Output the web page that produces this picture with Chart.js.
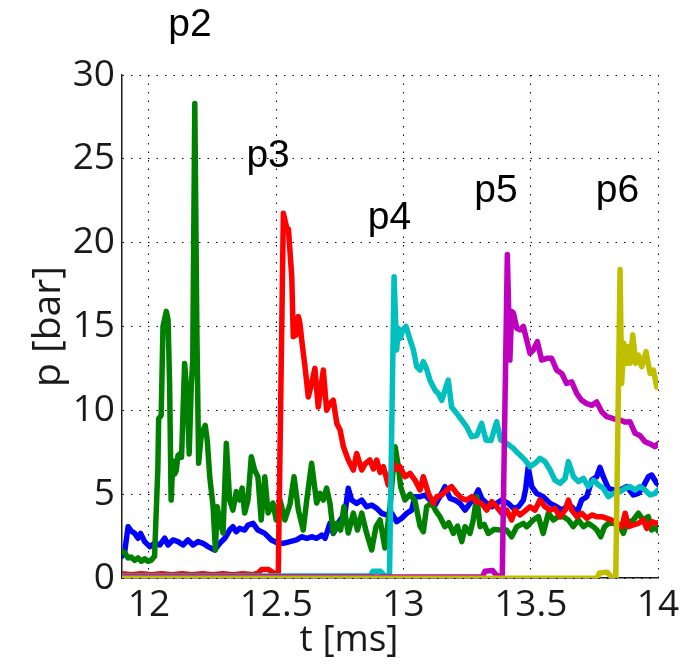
<!DOCTYPE html>
<html lang="en">
<head>
  <meta charset="UTF-8">
  <title>Pressure traces p1 - p6</title>
  <script src="https://cdn.jsdelivr.net/npm/chart.js"></script>
  <style>
    html, body { margin: 0; padding: 0; background: #fff; }
    #wrap { width: 693px; height: 664px; position: relative; }
  </style>
</head>
<body>
  <div id="wrap"><canvas id="pChart"></canvas></div>

  <script>
    // axis ticks
    const xTicks = [12, 12.5, 13, 13.5, 14];
    const yTicks = [0, 5, 10, 15, 20, 25, 30];

    // sensor names and where their text sits [name, t (ms), p (bar)]
    const peakLabels = [
      ['p2', 12.161, 32.3],
      ['p3', 12.468, 24.5],
      ['p4', 12.945, 20.8],
      ['p5', 13.363, 22.4],
      ['p6', 13.841, 22.4]
    ];

    // p1 (blue) [t, p]
    const p1 = [[11.894,1.3],[11.905,1.6],[11.918,3.06],[11.930,2.8],[11.944,2.66],[11.957,2.37],[11.967,2.66],[11.983,2.17],
      [12.003,1.87],[12.022,2.07],[12.042,1.97],[12.062,2.37],[12.075,1.97],[12.094,2.27],[12.114,2.17],[12.134,1.97],
      [12.153,2.27],[12.173,1.97],[12.193,2.17],[12.212,2.07],[12.232,1.87],[12.258,1.67],[12.278,2.07],[12.298,2.37],
      [12.317,2.86],[12.330,3.06],[12.343,2.76],[12.356,2.96],[12.376,2.86],[12.389,3.16],[12.409,3.26],[12.428,2.86],
      [12.455,2.66],[12.481,2.27],[12.507,2.07],[12.528,2.07],[12.554,2.17],[12.580,2.27],[12.600,2.46],[12.620,2.37],
      [12.639,2.46],[12.659,2.37],[12.679,2.56],[12.692,2.37],[12.711,3.26],[12.724,2.66],[12.738,3.06],[12.751,3.46],
      [12.770,3.86],[12.783,5.35],[12.796,4.65],[12.816,4.45],[12.836,4.65],[12.855,4.25],[12.875,4.35],[12.895,4.15],
      [12.914,3.86],[12.934,3.76],[12.954,3.86],[12.973,3.36],[12.993,3.56],[13.013,3.86],[13.032,4.05],[13.045,4.85],
      [13.065,4.85],[13.085,4.95],[13.104,4.65],[13.124,4.35],[13.143,4.85],[13.163,5.45],[13.183,4.75],[13.202,4.65],
      [13.222,4.45],[13.242,4.05],[13.261,4.45],[13.281,4.85],[13.294,5.25],[13.307,4.75],[13.327,4.45],[13.347,4.25],
      [13.366,4.45],[13.386,4.65],[13.412,4.45],[13.432,4.15],[13.452,4.25],[13.471,4.65],[13.480,5.3],[13.490,6.6],
      [13.504,5.45],[13.523,5.05],[13.549,4.85],[13.576,4.45],[13.602,4.25],[13.622,4.05],[13.641,4.25],[13.661,4.25],
      [13.681,3.86],[13.700,4.65],[13.720,4.85],[13.740,5.84],[13.759,6.04],[13.772,6.6],[13.785,6.04],[13.805,5.35],
      [13.825,5.25],[13.851,5.25],[13.877,5.45],[13.903,4.95],[13.923,5.05],[13.942,5.45],[13.962,6.04],[13.975,6.14],
      [13.995,5.65],[14.0,5.6]];

    // p2 (green)
    const p2 = [[11.894,1.6],[11.905,1.5],[11.918,1.2],[11.930,1.25],[11.944,1.05],[11.957,1.2],[11.970,1.0],[11.983,1.15],
      [11.996,1.0],[12.008,1.05],[12.022,1.3],[12.035,6.6],[12.038,9.5],[12.048,9.7],[12.055,15.0],[12.068,15.9],
      [12.075,15.4],[12.081,11.6],[12.087,4.65],[12.094,7.0],[12.101,6.2],[12.107,6.4],[12.114,7.3],[12.121,7.4],
      [12.128,7.2],[12.140,12.8],[12.151,10.6],[12.158,7.4],[12.166,11.4],[12.172,13.0],[12.180,28.3],[12.188,15.0],
      [12.195,6.85],[12.206,8.6],[12.221,9.1],[12.229,8.2],[12.239,6.0],[12.252,4.25],[12.261,1.67],[12.268,4.25],
      [12.278,3.46],[12.291,2.68],[12.304,8.03],[12.317,4.65],[12.330,4.05],[12.343,5.15],[12.356,4.65],[12.366,5.36],
      [12.376,3.87],[12.389,4.65],[12.402,7.23],[12.415,6.44],[12.428,6.04],[12.441,3.46],[12.455,6.04],[12.468,3.87],
      [12.487,4.47],[12.500,3.46],[12.515,4.65],[12.534,3.46],[12.554,4.4],[12.570,6.04],[12.587,4.05],[12.606,2.86],
      [12.620,4.65],[12.639,6.84],[12.659,4.47],[12.672,5.05],[12.685,4.65],[12.698,5.36],[12.711,4.47],[12.724,2.68],
      [12.738,3.26],[12.753,2.86],[12.766,4.25],[12.783,2.68],[12.803,3.87],[12.819,2.86],[12.836,3.87],[12.855,2.68],
      [12.875,1.67],[12.892,3.06],[12.908,3.46],[12.927,1.79],[12.947,4.25],[12.967,7.83],[12.980,6.64],[12.989,5.44],
      [13.006,4.65],[13.026,5.0],[13.045,4.6],[13.065,3.1],[13.078,2.76],[13.091,4.25],[13.111,4.47],[13.127,4.0],
      [13.143,3.66],[13.163,3.06],[13.178,3.3],[13.196,2.66],[13.212,3.1],[13.229,2.17],[13.242,3.06],[13.261,2.66],
      [13.274,3.46],[13.288,4.85],[13.301,3.06],[13.317,3.2],[13.333,2.66],[13.356,2.9],[13.379,2.86],[13.405,2.86],
      [13.425,2.46],[13.445,3.06],[13.471,3.26],[13.484,3.06],[13.497,3.26],[13.510,3.46],[13.530,3.66],[13.549,2.66],
      [13.569,3.86],[13.589,3.46],[13.608,3.66],[13.628,3.66],[13.648,3.46],[13.667,3.06],[13.687,3.46],[13.707,3.06],
      [13.726,3.26],[13.746,3.06],[13.760,2.86],[13.775,2.46],[13.790,3.06],[13.805,3.26],[13.825,3.26],[13.851,3.06],
      [13.864,2.66],[13.877,3.26],[13.903,3.46],[13.923,3.86],[13.942,3.46],[13.962,3.66],[13.975,2.86],[13.995,3.06],
      [14.0,2.8]];

    // p3 (red)
    const p3 = [[11.894,0.25],[11.93,0.2],[11.97,0.25],[12.01,0.2],[12.05,0.25],[12.09,0.2],[12.13,0.25],[12.17,0.2],
      [12.21,0.25],[12.25,0.2],[12.29,0.25],[12.33,0.2],[12.37,0.25],[12.41,0.2],[12.43,0.3],[12.442,0.5],[12.47,0.5],
      [12.49,0.3],[12.508,0.15],[12.528,21.75],[12.541,20.9],[12.548,20.8],[12.561,17.97],[12.567,14.4],[12.578,14.5],
      [12.587,15.6],[12.593,15.2],[12.600,14.2],[12.613,12.6],[12.626,10.8],[12.639,11.6],[12.652,12.5],[12.665,10.2],
      [12.685,12.4],[12.698,10.0],[12.711,10.4],[12.724,10.6],[12.738,9.22],[12.751,8.83],[12.764,7.83],[12.783,7.04],
      [12.803,6.44],[12.816,7.43],[12.836,6.44],[12.849,6.8],[12.868,7.04],[12.882,6.5],[12.895,7.04],[12.908,6.3],
      [12.921,6.64],[12.940,5.55],[12.960,6.84],[12.973,6.5],[12.986,6.64],[13.006,6.04],[13.026,6.24],[13.045,5.84],
      [13.065,5.25],[13.078,6.04],[13.098,5.05],[13.117,4.45],[13.131,4.85],[13.150,4.95],[13.170,5.25],[13.189,5.45],
      [13.209,5.05],[13.229,4.75],[13.248,4.65],[13.268,4.85],[13.288,4.55],[13.307,4.45],[13.327,4.05],[13.347,4.55],
      [13.366,4.25],[13.386,3.86],[13.405,4.05],[13.425,3.46],[13.438,4.05],[13.458,3.76],[13.478,4.0],[13.497,4.25],
      [13.517,4.05],[13.536,4.65],[13.556,4.25],[13.576,4.05],[13.595,4.15],[13.615,3.66],[13.635,4.05],[13.648,4.65],
      [13.661,4.05],[13.681,3.66],[13.700,3.86],[13.720,3.56],[13.740,3.76],[13.759,3.66],[13.779,3.66],[13.799,3.56],
      [13.818,3.46],[13.838,3.26],[13.858,3.06],[13.871,3.86],[13.884,3.06],[13.903,3.16],[13.923,3.26],[13.942,3.46],
      [13.956,2.96],[13.975,3.36],[13.995,3.26],[14.0,3.3]];

    // p4 (cyan)
    const p4 = [[11.894,0.12],[12.3,0.12],[12.87,0.12],[12.88,0.4],[12.91,0.4],[12.925,0.15],[12.945,0.12],
      [12.963,17.97],[12.973,13.6],[12.980,14.9],[12.988,14.3],[12.997,14.8],[13.010,15.0],[13.026,14.2],[13.039,13.6],
      [13.052,12.6],[13.065,12.4],[13.078,12.9],[13.090,12.5],[13.104,11.8],[13.124,11.2],[13.137,11.0],[13.150,10.6],
      [13.163,11.2],[13.176,11.8],[13.189,10.2],[13.209,9.82],[13.229,9.42],[13.248,9.02],[13.268,8.43],[13.288,8.5],
      [13.307,9.22],[13.324,8.23],[13.344,8.2],[13.366,9.32],[13.382,8.23],[13.406,8.03],[13.432,7.73],[13.446,7.5],
      [13.458,7.33],[13.478,7.03],[13.497,6.64],[13.517,6.84],[13.536,7.14],[13.556,6.94],[13.576,6.44],[13.595,5.84],
      [13.615,5.65],[13.635,5.94],[13.648,6.94],[13.668,6.04],[13.687,5.75],[13.707,5.94],[13.726,5.45],[13.746,5.84],
      [13.766,5.55],[13.785,5.35],[13.805,4.85],[13.825,5.05],[13.851,5.15],[13.871,5.35],[13.890,5.45],[13.910,5.25],
      [13.929,5.45],[13.949,5.25],[13.969,4.95],[13.989,5.05],[14.0,5.25]];

    // p5 (magenta)
    const p5 = [[11.894,0.06],[12.6,0.06],[13.31,0.06],[13.32,0.4],[13.35,0.45],[13.365,0.15],[13.388,0.06],
      [13.408,19.3],[13.418,13.0],[13.425,15.9],[13.432,15.8],[13.445,14.9],[13.458,14.8],[13.471,15.0],[13.484,14.2],
      [13.497,13.4],[13.510,13.6],[13.526,14.1],[13.543,13.0],[13.563,13.1],[13.582,13.1],[13.602,12.4],[13.622,12.2],
      [13.641,11.6],[13.661,11.7],[13.681,11.0],[13.700,10.6],[13.720,10.4],[13.740,10.3],[13.759,10.5],[13.779,9.92],
      [13.799,9.62],[13.825,9.5],[13.851,9.42],[13.871,9.3],[13.890,9.32],[13.910,8.63],[13.929,8.5],[13.949,8.13],
      [13.969,8.0],[13.988,7.83],[14.0,8.0]];

    // p6 (yellow)
    const p6 = [[11.894,-0.02],[12.8,-0.02],[13.76,-0.02],[13.77,0.3],[13.80,0.35],[13.815,0.1],[13.834,-0.02],
      [13.851,18.4],[13.857,11.6],[13.866,14.0],[13.877,12.8],[13.883,13.8],[13.890,12.8],[13.901,14.5],[13.912,12.8],
      [13.923,13.3],[13.936,12.6],[13.953,13.5],[13.969,12.2],[13.982,12.4],[13.995,11.4],[14.0,11.7]];

    function trace(rows, color, order) {
      return {
        data: rows.map(r => ({ x: r[0], y: r[1] })),
        borderColor: color,
        borderWidth: 5.5,
        borderJoinStyle: 'round',
        borderCapStyle: 'round',
        pointRadius: 0,
        tension: 0,
        fill: false,
        order: order
      };
    }

    const tickFont = { family: 'Open Sans', size: 37 };
    const axisColor = '#1a1a1a';

    // p2..p6 next to their pulses, plus the time axis name
    const chartText = {
      id: 'chartText',
      afterDraw(chart) {
        const { ctx, scales: { x, y } } = chart;
        ctx.save();
        ctx.font = '39px "Liberation Sans", Arial, sans-serif';
        ctx.fillStyle = '#000';
        ctx.textAlign = 'center';
        ctx.textBaseline = 'alphabetic';
        peakLabels.forEach(l => ctx.fillText(l[0], x.getPixelForValue(l[1]), y.getPixelForValue(l[2])));
        ctx.font = '37px "Open Sans"';
        ctx.fillStyle = axisColor;
        ctx.textBaseline = 'middle';
        ctx.fillText('t [ms]', x.getPixelForValue(12.786), x.bottom - 24);
        ctx.restore();
      }
    };

    new Chart(document.getElementById('pChart'), {
      type: 'line',
      data: {
        datasets: [
          trace(p1, '#0000ff', 5),
          trace(p2, '#008000', 4),
          trace(p3, '#ff0000', 3),
          trace(p4, '#00bfbf', 2),
          trace(p5, '#bf00bf', 1),
          trace(p6, '#bfbf00', 0)
        ]
      },
      options: {
        responsive: true,
        maintainAspectRatio: false,
        animation: false,
        layout: { padding: { top: 75, right: 35, left: 0, bottom: 0 } },
        plugins: { legend: { display: false }, tooltip: { enabled: false } },
        scales: {
          x: {
            type: 'linear',
            min: 11.894,
            max: 14,
            afterBuildTicks: s => { s.ticks = xTicks.map(v => ({ value: v })); },
            afterFit: s => { s.height = 86; },
            ticks: { font: tickFont, color: axisColor, padding: 5, maxRotation: 0, autoSkip: false, callback: v => String(v) },
            grid: { color: '#000', lineWidth: 1, drawTicks: false },
            border: { display: true, color: axisColor, width: 1.5, dash: [1.5, 7] }
          },
          y: {
            min: 0,
            max: 30,
            afterBuildTicks: s => { s.ticks = yTicks.map(v => ({ value: v })); },
            afterFit: s => { s.width = 122; },
            ticks: { font: tickFont, color: axisColor, padding: 7, callback: v => String(v) },
            grid: { color: '#000', lineWidth: 1, drawTicks: false },
            border: { display: true, color: axisColor, width: 1.5, dash: [1.5, 7] },
            title: { display: true, text: 'p [bar]', font: { family: 'Open Sans', size: 39 }, color: axisColor, padding: { top: 25, bottom: 0 } }
          }
        }
      },
      plugins: [chartText]
    });
  </script>
</body>
</html>
